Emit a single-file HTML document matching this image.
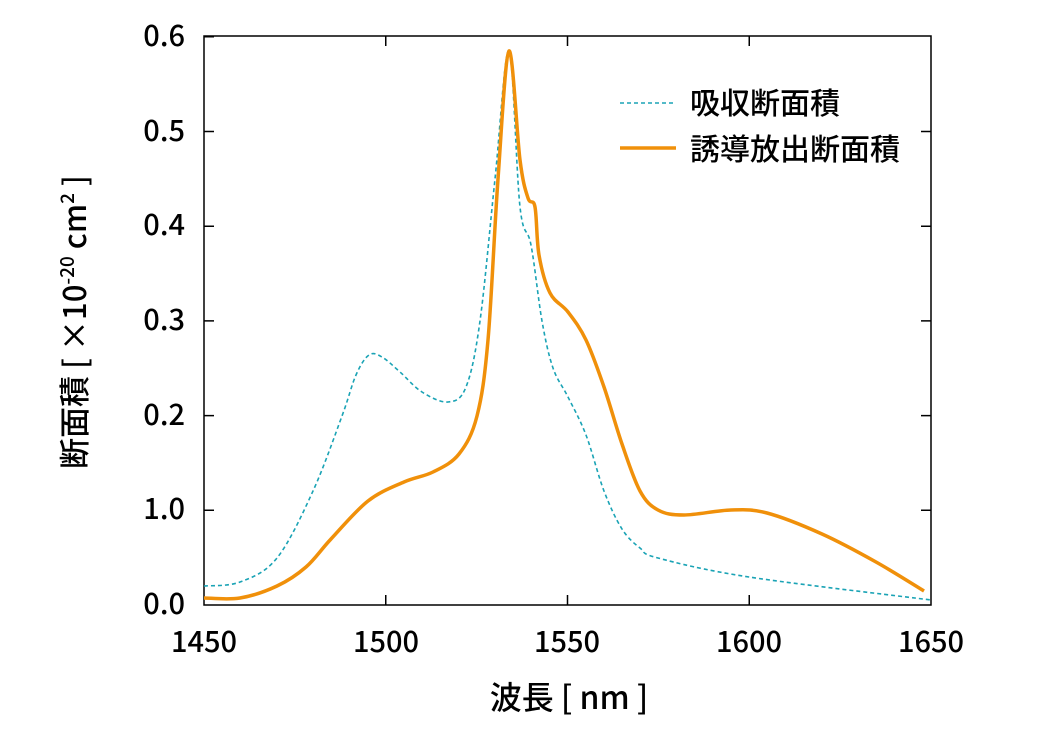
<!DOCTYPE html>
<html><head><meta charset="utf-8"><style>body{margin:0;background:#fff}</style></head><body>
<svg width="1042" height="730" xmlns="http://www.w3.org/2000/svg" font-family="'Noto Sans CJK JP','Liberation Sans',sans-serif" font-weight="500">
<rect width="1042" height="730" fill="#fff"/>
<g stroke="#000" stroke-width="1.5" fill="none">
<rect x="204" y="36" width="727" height="569"/>
<path d="M204 510.3h10M204 415.6h10M204 320.9h10M204 226.2h10M204 131.5h10M204 36.8h10M931 510.3h-10M931 415.6h-10M931 320.9h-10M931 226.2h-10M931 131.5h-10
M385.75 605v-10M567.5 605v-10M749.25 605v-10M385.75 36v10M567.5 36v10M749.25 36v10"/>
</g>
<g font-size="29" text-anchor="end" fill="#000">
<text x="185" y="614">0.0</text><text x="185" y="519">1.0</text><text x="185" y="425">0.2</text><text x="185" y="330">0.3</text><text x="185" y="235">0.4</text><text x="185" y="141">0.5</text><text x="185" y="46">0.6</text>
</g>
<g font-size="29" text-anchor="middle" fill="#000">
<text x="204" y="652">1450</text><text x="386" y="652">1500</text><text x="567" y="652">1550</text><text x="749" y="652">1600</text><text x="931" y="652">1650</text>
<text x="569" y="709" font-size="32">波長 [ nm ]</text>
</g>
<text transform="translate(86,322) rotate(-90)" text-anchor="middle" font-size="31">断面積 [ ×10<tspan font-size="19" dy="-12">-20</tspan><tspan dy="12"> cm</tspan><tspan font-size="19" dy="-12">2</tspan><tspan dy="12"> ]</tspan></text>
<path id="a" fill="none" stroke="#1aa3b5" stroke-width="1.6" stroke-dasharray="4,3"/>
<path id="e" fill="none" stroke="#f0900a" stroke-width="3.5" stroke-linejoin="round"/>
<line x1="620" y1="103" x2="676" y2="103" stroke="#1aa3b5" stroke-width="1.6" stroke-dasharray="4,3"/>
<line x1="620" y1="148" x2="676" y2="148" stroke="#f0900a" stroke-width="3.5"/>
<text x="690" y="114" font-size="30">吸収断面積</text>
<text x="690" y="160" font-size="30">誘導放出断面積</text>
</svg>
<script>
function cr(p){let d="M"+p[0][0]+" "+p[0][1];for(let i=0;i<p.length-1;i++){const p0=p[i-1]||p[i],p1=p[i],p2=p[i+1],p3=p[i+2]||p2;
d+=" C"+(p1[0]+(p2[0]-p0[0])/6)+" "+(p1[1]+(p2[1]-p0[1])/6)+" "+(p2[0]-(p3[0]-p1[0])/6)+" "+(p2[1]-(p3[1]-p1[1])/6)+" "+p2[0]+" "+p2[1];}return d;}
const A=[[204,586],[240,582],[277,558],[313,491],[342,416],[356,375],[369,355],[382,357],[400,372],[422,392],[448,402],[466,387],[480,321],[495,179],[509,51],[520,207],[531,245],[542,321],[553,368],[568,397],[586,435],[604,491],[622,529],[640,548],[658,558],[749,577],[931,600]];
const E=[[204,598],[240,598],[277,586],[306,567],[331,539],[368,501],[404,482],[433,472],[459,454],[477,416],[488,340],[498,179],[509,51],[520,160],[528,198],[535,207],[539,255],[550,293],[568,312],[586,340],[604,387],[622,444],[640,491],[658,510],[684,515],[731,510],[767,513],[822,534],[876,562],[924,591]];
document.getElementById("a").setAttribute("d",cr(A));
document.getElementById("e").setAttribute("d",cr(E));
</script>
</body></html>
